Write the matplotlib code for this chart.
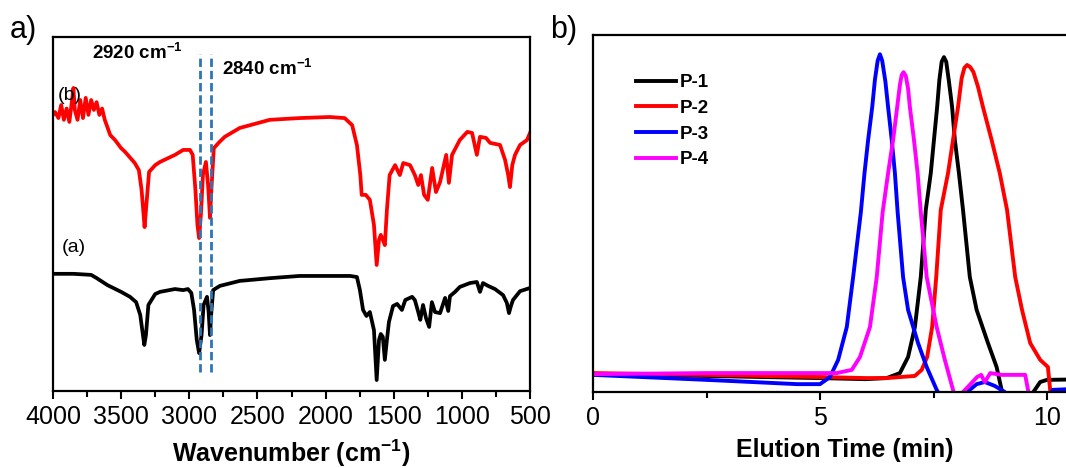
import matplotlib.pyplot as plt
from matplotlib.ticker import MultipleLocator

plt.rcParams['font.family'] = ['Liberation Sans', 'DejaVu Sans']
plt.rcParams['mathtext.fontset'] = 'custom'
plt.rcParams['mathtext.rm'] = 'Liberation Sans'
plt.rcParams['mathtext.bf'] = 'Liberation Sans:bold'

# ---- panel a: FTIR spectra ----
wn_a = [4000, 3850, 3720, 3680, 3600, 3500, 3435, 3390, 3360, 3340, 3330, 3318, 3300, 3250, 3215,
        3105, 3045, 3010, 2985, 2965, 2945, 2928, 2910, 2895, 2870, 2858, 2848, 2838, 2825, 2775,
        2630, 2400, 2190, 1820, 1770, 1748, 1725, 1700, 1675, 1645, 1625, 1608, 1595, 1580, 1565,
        1550, 1535, 1505, 1475, 1440, 1415, 1365, 1345, 1320, 1305, 1285, 1263, 1240, 1220, 1197,
        1160, 1123, 1100, 1087, 1050, 1015, 940, 890, 867, 845, 808, 757, 698, 670, 654, 640, 625,
        573, 500]
ir_a = [33.1, 33.1, 32.8, 31.9, 29.9, 28.0, 26.6, 25.1, 21.5, 15.8, 13.0, 15.8, 24.3, 27.4, 28.0,
        28.8, 28.5, 28.8, 27.7, 22.9, 14.4, 10.7, 15.8, 24.3, 26.6, 22.3, 15.8, 22.3, 28.5, 29.7,
        31.1, 31.9, 32.5, 32.5, 32.2, 28.5, 22.9, 21.2, 22.3, 17.2, 3.1, 14.4, 16.1, 15.3, 8.8,
        14.4, 19.5, 24.0, 24.6, 22.9, 25.7, 26.6, 25.7, 22.3, 20.1, 24.3, 20.6, 18.1, 25.1, 22.3,
        22.0, 26.3, 22.6, 26.8, 28.0, 29.4, 30.5, 30.8, 28.0, 30.5, 29.7, 28.8, 27.1, 24.9, 22.0, 24.0, 25.7,
        28.2, 29.1]

wn_b = [4000, 3985, 3960, 3940, 3920, 3900, 3880, 3860, 3850, 3840, 3820, 3800, 3780, 3760, 3740,
        3720, 3700, 3680, 3660, 3640, 3620, 3580, 3545, 3500, 3470, 3400, 3370, 3350, 3335, 3328,
        3315, 3295, 3250, 3215, 3105, 3045, 2995, 2975, 2955, 2940, 2928, 2915, 2900, 2878, 2862,
        2848, 2838, 2820, 2780, 2740, 2630, 2410, 2190, 1970, 1860, 1805, 1770, 1745, 1735, 1705,
        1675, 1645, 1625, 1608, 1595, 1580, 1565, 1550, 1530, 1490, 1455, 1430, 1380, 1345, 1320,
        1300, 1277, 1250, 1218, 1190, 1160, 1115, 1095, 1072, 1015, 960, 925, 890, 867, 823, 793,
        720, 683, 660, 647, 630, 610, 573, 522, 500]
ir_b = [78.0, 78.8, 77.1, 80.8, 76.6, 79.8, 76.0, 82.2, 85.6, 79.4, 76.6, 82.2, 77.1, 82.8, 78.0,
        82.2, 79.4, 81.6, 78.0, 79.8, 76.6, 72.3, 70.9, 68.6, 67.5, 64.4, 62.4, 56.8, 49.7, 46.3,
        52.5, 61.9, 63.8, 64.7, 66.7, 68.1, 68.1, 66.7, 56.8, 46.9, 43.2, 49.7, 61.0, 64.7, 58.2,
        48.9, 56.8, 68.6, 70.3, 71.8, 74.3, 76.6, 77.1, 77.4, 77.1, 75.1, 69.5, 61.0, 55.4, 55.4,
        54.0, 46.9, 35.6, 42.7, 44.1, 42.7, 41.2, 51.1, 61.0, 63.8, 61.0, 64.4, 63.8, 61.0, 58.2,
        61.0, 55.4, 54.0, 63.0, 56.2, 59.0, 66.7, 58.8, 66.7, 70.9, 73.2, 72.9, 66.7, 71.8, 71.5, 70.1,
        69.5, 65.3, 61.0, 57.6, 63.8, 66.7, 69.5, 70.9, 72.9]

mark_wn = [2920, 2840]
mark_labels = [r'2920 cm$^{\mathbf{-1}}$', r'2840 cm$^{\mathbf{-1}}$']

# ---- panel b: GPC traces ----
t_p1 = [0, 2.5, 5.0, 6.0, 6.47, 6.76, 6.94, 7.09, 7.22, 7.33, 7.44, 7.51, 7.58, 7.63, 7.68, 7.73,
        7.78, 7.84, 7.91, 7.97, 8.06, 8.15, 8.30, 8.45, 8.70, 8.89, 9.0, 9.1, 9.6, 9.7, 9.85, 10.0, 11.1]
p1 = [5.0, 4.5, 3.9, 3.6, 3.9, 5.3, 9.8, 18.2, 32.2, 51.0, 61.3, 70.6, 79.8, 87.5, 92.5, 93.8,
      92.5, 87.0, 79.8, 70.6, 61.3, 51.0, 32.2, 23.0, 13.7, 7.0, 0.6, -2.2, -2.2, 0, 2.8, 3.4, 3.6]

t_p2 = [0, 2.5, 5.0, 6.0, 6.47, 7.09, 7.24, 7.36, 7.47, 7.56, 7.66, 7.82, 7.93, 8.04, 8.12, 8.18,
        8.24, 8.31, 8.38, 8.48, 8.59, 8.78, 8.96, 9.12, 9.3, 9.45, 9.63, 9.85, 10.02, 10.08, 11.1]
p2 = [5.3, 4.8, 4.2, 3.9, 3.9, 4.5, 6.2, 9.8, 18.2, 32.2, 51.0, 61.3, 70.6, 79.8, 87.9, 90.8,
      91.6, 91.0, 89.6, 85.5, 79.8, 70.6, 61.3, 51.0, 32.2, 23.0, 13.7, 9.0, 7.0, -0.8, -2.2]

t_p3 = [0, 2.5, 4.5, 5.0, 5.22, 5.40, 5.59, 5.73, 5.9, 5.98, 6.06, 6.15, 6.21, 6.27, 6.32, 6.37,
        6.44, 6.5, 6.58, 6.65, 6.71, 6.83, 6.94, 7.16, 7.35, 7.57, 7.7, 8.1, 8.24, 8.45, 8.63, 8.85,
        9.07, 9.2, 10.0, 10.13, 11.1]
p3 = [4.8, 3.4, 2.2, 2.2, 4.2, 9.0, 18.2, 32.2, 50.4, 61.3, 70.6, 79.8, 87.5, 92.8, 94.6, 92.8,
      87.0, 79.8, 70.6, 61.3, 50.4, 32.2, 23.0, 13.7, 7.0, 0.6, -2.2, -2.2, 0, 2.2, 2.8, 1.7,
      0, -2.2, -2.2, 0.6, 1.1]

t_p4 = [0, 2.5, 5.0, 5.37, 5.7, 5.88, 6.1, 6.25, 6.38, 6.5, 6.61, 6.70, 6.76, 6.80, 6.84, 6.89,
        6.94, 6.98, 7.07, 7.15, 7.22, 7.35, 7.57, 7.75, 7.93, 8.0, 8.1, 8.15, 8.3, 8.46, 8.55, 8.63,
        8.75, 9.0, 9.41, 9.52, 9.59, 9.65]
p4 = [5.0, 5.3, 5.3, 5.3, 6.2, 9.8, 18.2, 32.2, 50.4, 61.3, 70.6, 79.8, 86.0, 88.8, 89.6, 88.5,
      85.0, 79.8, 70.6, 61.3, 50.4, 32.2, 18.2, 9.0, 0.6, -2.2, -2.2, 0, 2.0, 4.2, 4.8, 2.8,
      5.3, 4.8, 4.8, 4.8, 0, -2.2]

gpc_names = ['P-1', 'P-2', 'P-3', 'P-4']
gpc_colors = ['black', '#FF0000', '#0000FF', '#FF00FF']

fig = plt.figure(figsize=(10.66, 4.68), dpi=100)

# panel a
ax = fig.add_axes([53/1066, 77/468, 477/1066, 354/468])
ax.plot(wn_a, ir_a, color='black', lw=2.7)
ax.plot(wn_b, ir_b, color='#FF0000', lw=2.7)
for w in mark_wn:
    ax.plot([w, w], [5.4, 95.2], color='#2E75B6', lw=2.0, dashes=(3, 1.4))
ax.text(3714, 95.5, mark_labels[0], fontsize=13.5, fontweight='bold', va='center')
ax.text(2760, 91.2, mark_labels[1], fontsize=13.5, fontweight='bold', va='center')
ax.text(3965, 83.6, '(b)', fontsize=14, va='center')
ax.text(3936, 40.4, '(a)', fontsize=14, va='center')
ax.set_xlim(4000, 500)
ax.set_ylim(0, 100)
ax.xaxis.set_major_locator(MultipleLocator(500))
ax.xaxis.set_minor_locator(MultipleLocator(250))
ax.set_yticks([])
ax.tick_params(axis='x', which='major', direction='out', length=6, width=1.5, labelsize=18, pad=4)
ax.tick_params(axis='x', which='minor', direction='out', length=4, width=1.5)
for s in ax.spines.values():
    s.set_linewidth(1.6)
ax.set_xlabel(r'Wavenumber (cm$^{\mathbf{-1}}$)', fontsize=18, fontweight='bold', labelpad=6)

# panel b
ax2 = fig.add_axes([593/1066, 76/468, 11.1*45.4/1066, 357/468])
for t, y, name, c in zip([t_p1, t_p2, t_p3, t_p4], [p1, p2, p3, p4], gpc_names, gpc_colors):
    ax2.plot(t, y, color=c, lw=2.8, label=name)
ax2.set_xlim(0, 11.1)
ax2.set_ylim(0, 100)
ax2.set_xticks([0, 5, 10])
ax2.xaxis.set_minor_locator(MultipleLocator(2.5))
ax2.set_yticks([])
ax2.tick_params(axis='x', which='major', direction='out', length=6, width=1.5, labelsize=18, pad=4)
ax2.tick_params(axis='x', which='minor', direction='out', length=4, width=1.5)
for s in ax2.spines.values():
    s.set_linewidth(1.6)
ax2.set_xlabel('Elution Time (min)', fontsize=18, fontweight='bold', labelpad=6)
ax2.legend(loc='upper left', bbox_to_anchor=(0.085, 0.89), frameon=False,
           prop={'weight': 'bold', 'size': 13.5}, handlelength=2.15, handletextpad=0.2,
           labelspacing=0.45, borderpad=0, borderaxespad=0)

fig.text(10/1066, 1 - 30/468, 'a)', fontsize=22, va='center')
fig.text(550/1066, 1 - 30/468, 'b)', fontsize=22, va='center')

fig.savefig('out.png', dpi=100)
